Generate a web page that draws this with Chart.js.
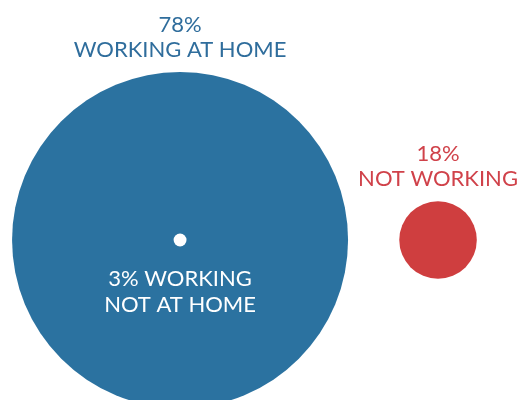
<!DOCTYPE html>
<html>
<head>
<meta charset="utf-8">
<script src="https://cdn.jsdelivr.net/npm/chart.js@4.4.1/dist/chart.umd.min.js"></script>
<style>
  html, body { margin: 0; padding: 0; background: #ffffff; }
  #WorkChart { display: block; }
</style>
</head>
<body>
<canvas id="WorkChart" width="518" height="400"></canvas>
<script>
// shares of respondents, circle radius grows with the share
var groupNames = ['WORKING AT HOME', 'NOT WORKING', 'WORKING NOT AT HOME'];
var groupShares = [78, 18, 3];
var groupSlots = [0, 1, 0]; // the small group sits in the middle of the big one
var groupColors = ['#2b72a0', '#cf3e3f', '#ffffff'];
var textColors = ['#2f6d9c', '#d0424a', '#ffffff'];

var radiusPerPoint = 168 / 78;
var labelFont = '22px Lato, "Open Sans", sans-serif';

var bubbleLabels = {
    id: 'bubbleLabels',
    afterDatasetsDraw: function (chart) {
        var ctx = chart.ctx;
        var meta = chart.getDatasetMeta(0);
        ctx.save();
        ctx.font = labelFont;
        ctx.textAlign = 'center';
        ctx.textBaseline = 'alphabetic';
        meta.data.forEach(function (pt, i) {
            var r = groupShares[i] * radiusPerPoint;
            ctx.fillStyle = textColors[i];
            if (i === 2) {
                // sits inside the big circle, under the white dot
                ctx.fillText(groupShares[i] + '% WORKING', pt.x, pt.y + 46);
                ctx.fillText('NOT AT HOME', pt.x, pt.y + 72);
            } else {
                var top = pt.y - r;
                ctx.fillText(groupShares[i] + '%', pt.x, top - 40);
                ctx.fillText(groupNames[i], pt.x, top - 15);
            }
        });
        ctx.restore();
    }
};

var ctx = document.getElementById('WorkChart').getContext('2d');
new Chart(ctx, {
    type: 'scatter',
    data: {
        datasets: [{
            data: groupShares.map(function (v, i) { return { x: groupSlots[i], y: 0 }; }),
            backgroundColor: groupColors,
            borderWidth: 0,
            pointRadius: function (c) { return groupShares[c.dataIndex] * radiusPerPoint; },
            pointHoverRadius: function (c) { return groupShares[c.dataIndex] * radiusPerPoint; },
            clip: false
        }]
    },
    options: {
        responsive: false,
        animation: false,
        events: [],
        layout: { padding: 0, autoPadding: false },
        plugins: {
            legend: { display: false },
            tooltip: { enabled: false }
        },
        scales: {
            x: { type: 'linear', display: false, min: -0.698, max: 1.31 },
            y: { type: 'linear', display: false, min: -1, max: 1.5 }
        }
    },
    plugins: [bubbleLabels]
});
</script>
</body>
</html>
